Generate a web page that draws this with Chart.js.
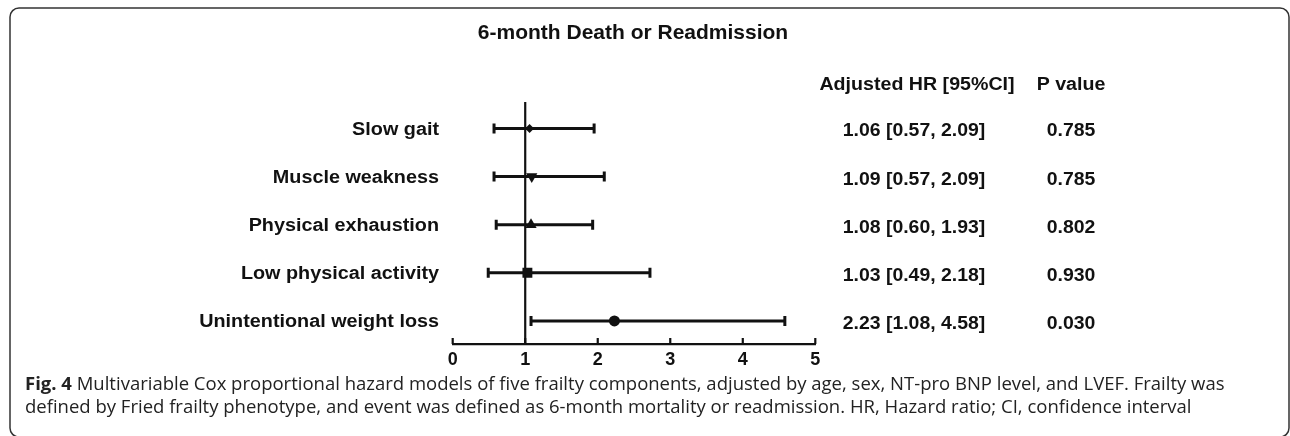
<!DOCTYPE html>
<html>
<head>
<meta charset="utf-8">
<script src="https://cdn.jsdelivr.net/npm/chart.js@4.4.1/dist/chart.umd.min.js"></script>
<style>
  html, body { margin: 0; padding: 0; background: #fff; }
  canvas { display: block; }
</style>
</head>
<body>
<canvas id="forest" width="1290" height="436"></canvas>
<script>
// rows of the forest plot
const rowLabels = ["Slow gait", "Muscle weakness", "Physical exhaustion", "Low physical activity", "Unintentional weight loss"];
// point estimates and CI ends as plotted
const hrValues = [1.06, 1.09, 1.08, 1.03, 2.23];
const ciLower = [0.57, 0.57, 0.60, 0.49, 1.08];
const ciUpper = [1.95, 2.09, 1.93, 2.72, 4.58];
// table text on the right
const hrText = ["1.06 [0.57, 2.09]", "1.09 [0.57, 2.09]", "1.08 [0.60, 1.93]", "1.03 [0.49, 2.18]", "2.23 [1.08, 4.58]"];
const pText = ["0.785", "0.785", "0.802", "0.930", "0.030"];
const xTicks = [0, 1, 2, 3, 4, 5];
const refValue = 1;

const markerStyles = ["rectRot", "triangle", "triangle", "rect", "circle"];
const markerRotation = [0, 180, 0, 0, 0];
const markerRadius = [4.5, 6.5, 6.5, 7, 5.5];

const INK = "#111";
const BOLD = "'Liberation Sans', Arial, sans-serif";

function drawText(ctx, str, x, y, align, font, sx) {
    ctx.save();
    ctx.font = font;
    ctx.textAlign = align;
    ctx.textBaseline = "middle";
    ctx.translate(x, y);
    ctx.scale(sx || 1, 1);
    ctx.fillText(str, 0, 0);
    ctx.restore();
}

const forestPlugin = {
    id: "forest",
    beforeDatasetsDraw(chart) {
        const { ctx, chartArea, scales: { x, y } } = chart;
        ctx.save();
        ctx.strokeStyle = INK;
        // line of no effect
        ctx.lineWidth = 2.2;
        const rx = x.getPixelForValue(refValue);
        ctx.beginPath();
        ctx.moveTo(rx, chartArea.top);
        ctx.lineTo(rx, chartArea.bottom);
        ctx.stroke();
        // confidence intervals
        ctx.lineWidth = 3;
        rowLabels.forEach((_, i) => {
            const py = y.getPixelForValue(i);
            const x0 = x.getPixelForValue(ciLower[i]);
            const x1 = x.getPixelForValue(ciUpper[i]);
            ctx.beginPath();
            ctx.moveTo(x0, py);
            ctx.lineTo(x1, py);
            ctx.moveTo(x0, py - 5);
            ctx.lineTo(x0, py + 5);
            ctx.moveTo(x1, py - 5);
            ctx.lineTo(x1, py + 5);
            ctx.stroke();
        });
        ctx.restore();
    },
    afterDraw(chart) {
        const { ctx, chartArea, scales: { x, y } } = chart;
        ctx.save();
        ctx.strokeStyle = INK;
        ctx.fillStyle = INK;
        // tick marks point up from the axis
        ctx.lineWidth = 2.2;
        xTicks.forEach(t => {
            const px = x.getPixelForValue(t);
            ctx.beginPath();
            ctx.moveTo(px, chartArea.bottom);
            ctx.lineTo(px, chartArea.bottom - 6);
            ctx.stroke();
        });

        // title and headers
        drawText(ctx, "6-month Death or Readmission", 633, 33, "center", "bold 21px " + BOLD, 1);
        drawText(ctx, "Adjusted HR [95%CI]", 917, 85, "center", "bold 18px " + BOLD, 1.09);
        drawText(ctx, "P value", 1071, 85, "center", "bold 18px " + BOLD, 1.09);

        rowLabels.forEach((label, i) => {
            const py = y.getPixelForValue(i);
            drawText(ctx, label, 439, py + 1.5, "right", "bold 18px " + BOLD, 1.1);
            drawText(ctx, hrText[i], 914, py + 3, "center", "bold 18px " + BOLD, 1.08);
            drawText(ctx, pText[i], 1071, py + 3, "center", "bold 18px " + BOLD, 1.08);
        });

        // caption
        ctx.textAlign = "left";
        ctx.textBaseline = "middle";
        ctx.fillStyle = "#222";
        ctx.font = "bold 18.5px 'Open Sans', sans-serif";
        const figLabel = "Fig. 4";
        ctx.fillText(figLabel, 25, 385);
        const figW = ctx.measureText(figLabel + " ").width;
        ctx.font = "18.5px 'Open Sans', sans-serif";
        ctx.fillText("Multivariable Cox proportional hazard models of five frailty components, adjusted by age, sex, NT-pro BNP level, and LVEF. Frailty was", 25 + figW, 385);
        ctx.fillText("defined by Fried frailty phenotype, and event was defined as 6-month mortality or readmission. HR, Hazard ratio; CI, confidence interval", 25, 408);

        // rounded frame
        ctx.strokeStyle = "#333";
        ctx.lineWidth = 1.5;
        ctx.beginPath();
        ctx.roundRect(10, 8, 1279, 429, 9);
        ctx.stroke();
        ctx.restore();
    }
};

new Chart(document.getElementById("forest"), {
    type: "scatter",
    data: {
        datasets: [{
            data: hrValues.map((v, i) => ({ x: v, y: i })),
            pointStyle: markerStyles,
            rotation: markerRotation,
            pointRadius: markerRadius,
            backgroundColor: INK,
            borderColor: INK,
            borderWidth: 0
        }]
    },
    options: {
        responsive: false,
        animation: false,
        devicePixelRatio: 1,
        layout: { padding: { left: 452.7, right: 474.7, top: 102, bottom: 0 } },
        plugins: { legend: { display: false }, tooltip: { enabled: false } },
        scales: {
            x: {
                type: "linear",
                min: 0,
                max: 5,
                afterFit(scale) { scale.height = 92; },
                afterBuildTicks(scale) { scale.ticks = xTicks.map(v => ({ value: v })); },
                grid: { display: false },
                border: { display: true, color: INK, width: 2.2 },
                ticks: {
                    padding: -3,
                    color: INK,
                    font: { family: BOLD, weight: "bold", size: 18 }
                }
            },
            y: {
                type: "linear",
                display: false,
                reverse: true,
                min: -0.55,
                max: 4.48
            }
        }
    },
    plugins: [forestPlugin]
});
</script>
</body>
</html>
